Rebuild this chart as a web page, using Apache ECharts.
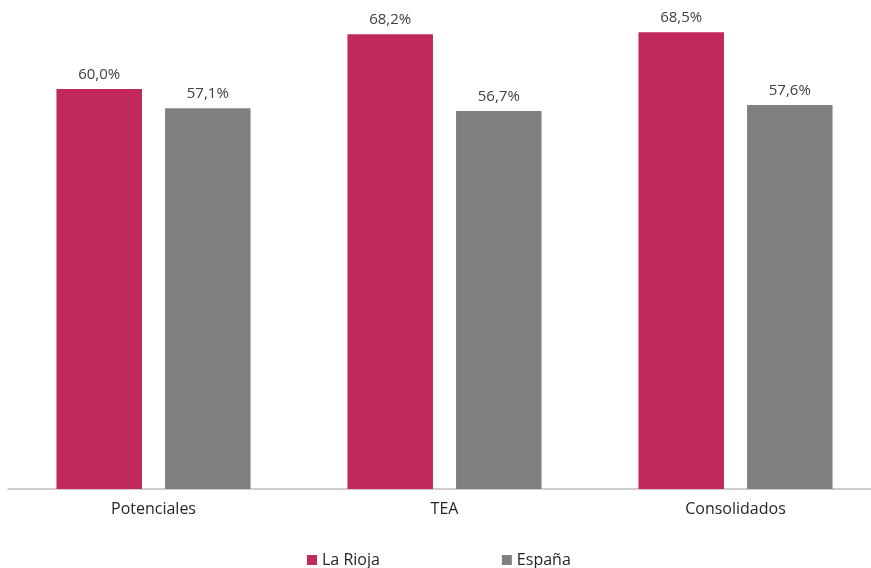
<!DOCTYPE html>
<html><head><meta charset="utf-8">
<script src="https://cdn.jsdelivr.net/npm/echarts@6/dist/echarts.min.js"></script>
<style>html,body{margin:0;padding:0;background:#fff}#c{width:871px;height:568px}</style>
</head><body><div id="c"></div>
<script>
const categories = ["Potenciales", "TEA", "Consolidados"];
const laRioja = [60.0, 68.2, 68.5];
const espana = [57.1, 56.7, 57.6];
const seriesNames = ["La Rioja", "España"];

const font = "Open Sans";
const fmt = p => p.value.toFixed(1).replace('.', ',') + '%';
const chart = echarts.init(document.getElementById('c'));
chart.setOption({
  animation: false,
  textStyle: { fontFamily: font },
  grid: { left: 8, right: -10, top: 22.3, bottom: 79, containLabel: false, outerBoundsMode: 'none' },
  legend: {
    data: seriesNames, left: 302, top: 547, itemWidth: 10, itemHeight: 10, itemGap: 122,
    icon: 'rect', textStyle: { fontSize: 16, color: '#262626', fontFamily: font }
  },
  xAxis: {
    type: 'category', data: categories,
    axisLine: { lineStyle: { color: '#bfbfbf', width: 1.5 } },
    axisTick: { show: false },
    axisLabel: { fontSize: 16, color: '#262626', margin: 12, fontFamily: font }
  },
  yAxis: { type: 'value', min: 0, max: 70, show: false, splitLine: { show: false } },
  series: [
    { name: seriesNames[0], type: 'bar', data: laRioja, barWidth: 85.5, barGap: '27%',
      itemStyle: { color: '#C0295A' },
      label: { show: true, position: 'top', distance: 7, formatter: fmt, fontSize: 15, color: '#404040', fontFamily: font } },
    { name: seriesNames[1], type: 'bar', data: espana, barWidth: 85.5,
      itemStyle: { color: '#808080' },
      label: { show: true, position: 'top', distance: 7, formatter: fmt, fontSize: 15, color: '#404040', fontFamily: font } }
  ]
});
</script></body></html>
